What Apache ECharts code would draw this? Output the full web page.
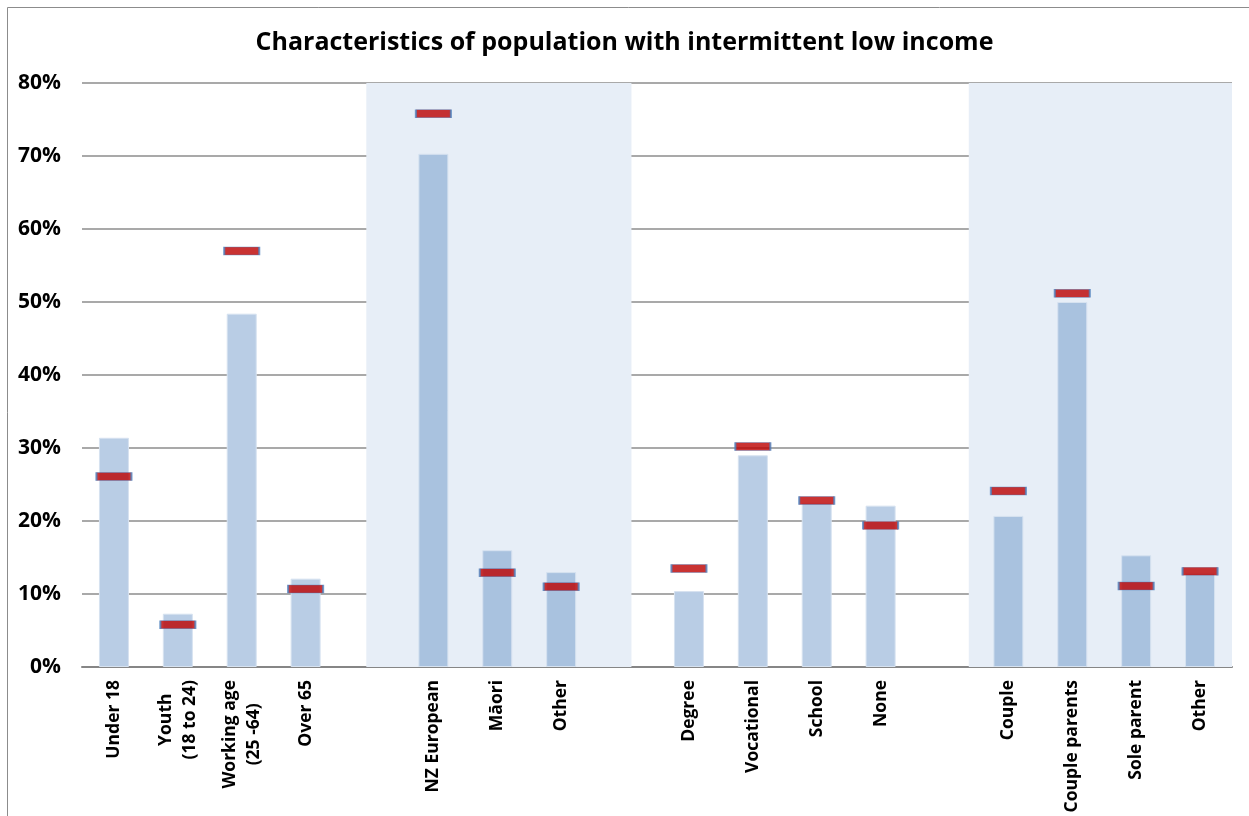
<!DOCTYPE html>
<html>
<head>
<meta charset="utf-8">
<script src="https://cdn.jsdelivr.net/npm/echarts@6/dist/echarts.min.js"></script>
<style>
  html, body { margin: 0; padding: 0; background: #fff; }
  #chart { width: 1249px; height: 816px; }
</style>
</head>
<body>
<div id="chart"></div>
<script>
// categories, with empty slots as gaps between the groups
const categories = [
  'Under 18', 'Youth\n(18 to 24)', 'Working age\n(25 -64)', 'Over 65', '',
  'NZ European', 'Māori', 'Other', '',
  'Degree', 'Vocational', 'School', 'None', '',
  'Couple', 'Couple parents', 'Sole parent', 'Other',
];

// blue bars (%)
const barValues = [
  31.4, 7.3, 48.4, 12.1, '-',
  70.3, 16.0, 13.0, '-',
  10.4, 29.0, 22.5, 22.1, '-',
  20.7, 50.0, 15.3, 12.9,
];

// red markers (%)
const markerValues = [
  26.1, 5.8, 57.0, 10.7, '-',
  75.8, 12.9, 11.0, '-',
  13.5, 30.2, 22.8, 19.4, '-',
  24.1, 51.2, 11.1, 13.1,
];

// shaded backgrounds, in category-slot units
const shadedBands = [
  [4.45, 8.6],
  [13.88, 18],
];

const yTicks = [0, 10, 20, 30, 40, 50, 60, 70, 80];

const font = '"Open Sans", Lato, sans-serif';

const inBand = (idx) => shadedBands.some(([a, b]) => idx + 0.5 > a && idx + 0.5 < b);

const chart = echarts.init(document.getElementById('chart'));

chart.setOption({
  animation: false,
  backgroundColor: '#fff',
  title: {
    text: 'Characteristics of population with intermittent low income',
    left: 'center',
    top: 25,
    textStyle: { fontFamily: font, fontSize: 25, fontWeight: 'bold', color: '#000' },
  },
  graphic: [{
    type: 'rect',
    shape: { x: 7.5, y: 7.5, width: 1400, height: 1000 },
    style: { fill: 'none', stroke: '#8c8c8c', lineWidth: 1 },
    silent: true,
  }],
  grid: { left: 82, right: 17, top: 83, bottom: 149 },
  xAxis: [
    {
      type: 'category',
      data: categories,
      axisLine: { lineStyle: { color: '#868686', width: 2 } },
      axisTick: { show: false },
      axisLabel: {
        interval: 0,
        rotate: 90,
        margin: 13,
        formatter: (v) => v.split('\n').map((s) => `{c|${s}}`).join('\n'),
        rich: {
          c: {
            align: 'center',
            fontFamily: font,
            fontSize: 17.5,
            fontWeight: 'bold',
            color: '#000',
            lineHeight: 24,
          },
        },
      },
    },
    {
      type: 'value',
      min: 0,
      max: 18,
      show: false,
    },
  ],
  yAxis: {
    type: 'value',
    min: 0,
    max: 80,
    interval: 10,
    axisLine: { show: false },
    axisTick: { show: false },
    splitLine: { lineStyle: { color: '#8c8c8c', width: 1.5 } },
    axisLabel: {
      margin: 21,
      formatter: (v) => (yTicks.includes(v) ? `${v}%` : ''),
      fontFamily: font,
      fontSize: 21,
      fontWeight: 'bold',
      color: '#000',
    },
  },
  series: [
    {
      type: 'scatter',
      xAxisIndex: 1,
      data: [],
      z: -1,
      silent: true,
      markArea: {
        silent: true,
        itemStyle: { color: '#e7eef7' },
        data: shadedBands.map(([a, b]) => [{ xAxis: a }, { xAxis: b }]),
      },
    },
    {
      type: 'bar',
      data: barValues,
      barWidth: 30,
      itemStyle: {
        color: (p) => (inBand(p.dataIndex) ? '#a9c2df' : '#b9cde5'),
        borderColor: '#d6e2f0',
        borderWidth: 1,
      },
    },
    {
      type: 'scatter',
      data: markerValues,
      symbol: 'rect',
      symbolSize: [35, 8],
      itemStyle: { color: '#bb0000', borderColor: '#4f81bd', borderWidth: 1 },
      z: 5,
    },
  ],
});
</script>
</body>
</html>
